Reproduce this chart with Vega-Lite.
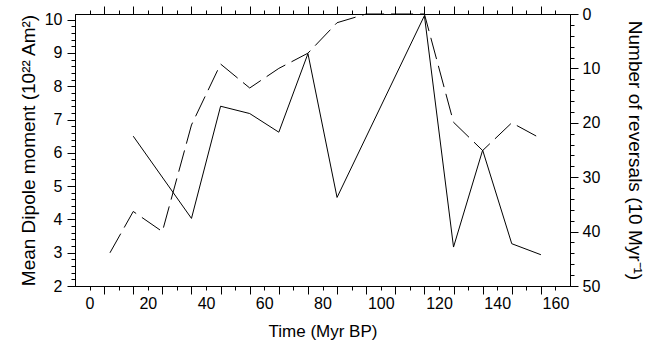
{
  "$schema": "https://vega.github.io/schema/vega-lite/v6.json",
  "width": 495,
  "height": 272,
  "autosize": {"type": "none"},
  "padding": {"left": 75, "top": 14, "right": 90, "bottom": 65},
  "background": "white",
  "config": {
    "view": {"stroke": "black", "strokeWidth": 1},
    "axis": {
      "labelFont": "Liberation Sans",
      "titleFont": "Liberation Sans",
      "labelFontSize": 16,
      "titleFontSize": 17,
      "titleFontWeight": "normal",
      "labelColor": "black",
      "titleColor": "black",
      "domainColor": "black",
      "domainWidth": 1,
      "tickColor": "black",
      "tickWidth": 1,
      "grid": false
    }
  },
  "datasets": {
    "dipole": [
      {"time": 15, "dipole": 6.50},
      {"time": 35, "dipole": 4.03},
      {"time": 45, "dipole": 7.40},
      {"time": 55, "dipole": 7.18},
      {"time": 65, "dipole": 6.62},
      {"time": 75, "dipole": 8.98},
      {"time": 85, "dipole": 4.66},
      {"time": 115, "dipole": 10.12},
      {"time": 125, "dipole": 3.17},
      {"time": 135, "dipole": 6.08},
      {"time": 145, "dipole": 3.27},
      {"time": 155, "dipole": 2.94}
    ],
    "reversals": [
      {"time": 7, "reversals": 43.9},
      {"time": 15, "reversals": 36.3},
      {"time": 25, "reversals": 40.0},
      {"time": 35, "reversals": 20.4},
      {"time": 45, "reversals": 9.2},
      {"time": 55, "reversals": 13.6},
      {"time": 65, "reversals": 10.0},
      {"time": 75, "reversals": 7.2},
      {"time": 85, "reversals": 1.6},
      {"time": 95, "reversals": 0},
      {"time": 105, "reversals": 0},
      {"time": 115, "reversals": 0},
      {"time": 125, "reversals": 19.9},
      {"time": 135, "reversals": 25.1},
      {"time": 145, "reversals": 20.0},
      {"time": 155, "reversals": 22.9}
    ]
  },
  "layer": [
    {
      "data": {"name": "dipole"},
      "mark": {"type": "line", "color": "black", "strokeWidth": 1},
      "encoding": {
        "x": {
          "field": "time",
          "type": "quantitative",
          "scale": {"domain": [-5, 165], "nice": false, "zero": false},
          "axis": {
            "orient": "bottom",
            "title": "Time (Myr BP)",
            "values": [0,5,10,15,20,25,30,35,40,45,50,55,60,65,70,75,80,85,90,95,100,105,110,115,120,125,130,135,140,145,150,155,160],
            "tickSize": {"condition": {"test": "datum.value % 10 === 5", "value": 8}, "value": 4},
            "labelExpr": "datum.value % 20 === 0 ? datum.label : ''",
            "labelFlush": false,
            "labelPadding": 5,
            "titlePadding": 12
          }
        },
        "y": {
          "field": "dipole",
          "type": "quantitative",
          "scale": {"domain": [2, 10.17], "nice": false, "zero": false},
          "axis": {
            "orient": "left",
            "title": "Mean Dipole moment (10²² Am²)",
            "titleFontSize": 19,
            "values": [2,2.2,2.4,2.6,2.8,3,3.2,3.4,3.6,3.8,4,4.2,4.4,4.6,4.8,5,5.2,5.4,5.6,5.8,6,6.2,6.4,6.6,6.8,7,7.2,7.4,7.6,7.8,8,8.2,8.4,8.6,8.8,9,9.2,9.4,9.6,9.8,10],
            "tickSize": {"condition": {"test": "abs(datum.value - round(datum.value)) < 0.01", "value": 8}, "value": 4},
            "labelExpr": "abs(datum.value - round(datum.value)) < 0.01 ? format(datum.value, 'd') : ''",
            "labelFlush": false,
            "labelPadding": 5,
            "titlePadding": 6
          }
        }
      }
    },
    {
      "data": {"name": "reversals"},
      "mark": {"type": "line", "color": "black", "strokeWidth": 1, "strokeDash": [22, 7]},
      "encoding": {
        "x": {
          "field": "time",
          "type": "quantitative",
          "scale": {"domain": [-5, 165], "nice": false, "zero": false},
          "axis": {
            "orient": "top",
            "title": null,
            "labels": false,
            "values": [0,5,10,15,20,25,30,35,40,45,50,55,60,65,70,75,80,85,90,95,100,105,110,115,120,125,130,135,140,145,150,155,160],
            "tickSize": {"condition": {"test": "datum.value % 10 === 5", "value": 8}, "value": 4}
          }
        },
        "y": {
          "field": "reversals",
          "type": "quantitative",
          "scale": {"domain": [0, 50], "reverse": true, "nice": false, "zero": false},
          "axis": {
            "orient": "right",
            "title": "Number of reversals (10 Myr⁻¹)",
            "titleFontSize": 19,
            "values": [0,2,4,6,8,10,12,14,16,18,20,22,24,26,28,30,32,34,36,38,40,42,44,46,48,50],
            "tickSize": {"condition": {"test": "datum.value % 10 === 0", "value": 8}, "value": 4},
            "labelExpr": "datum.value % 10 === 0 ? datum.label : ''",
            "labelFlush": false,
            "labelPadding": 4,
            "titlePadding": 25
          }
        }
      }
    }
  ],
  "resolve": {
    "scale": {"y": "independent"},
    "axis": {"x": "independent", "y": "independent"}
  }
}
